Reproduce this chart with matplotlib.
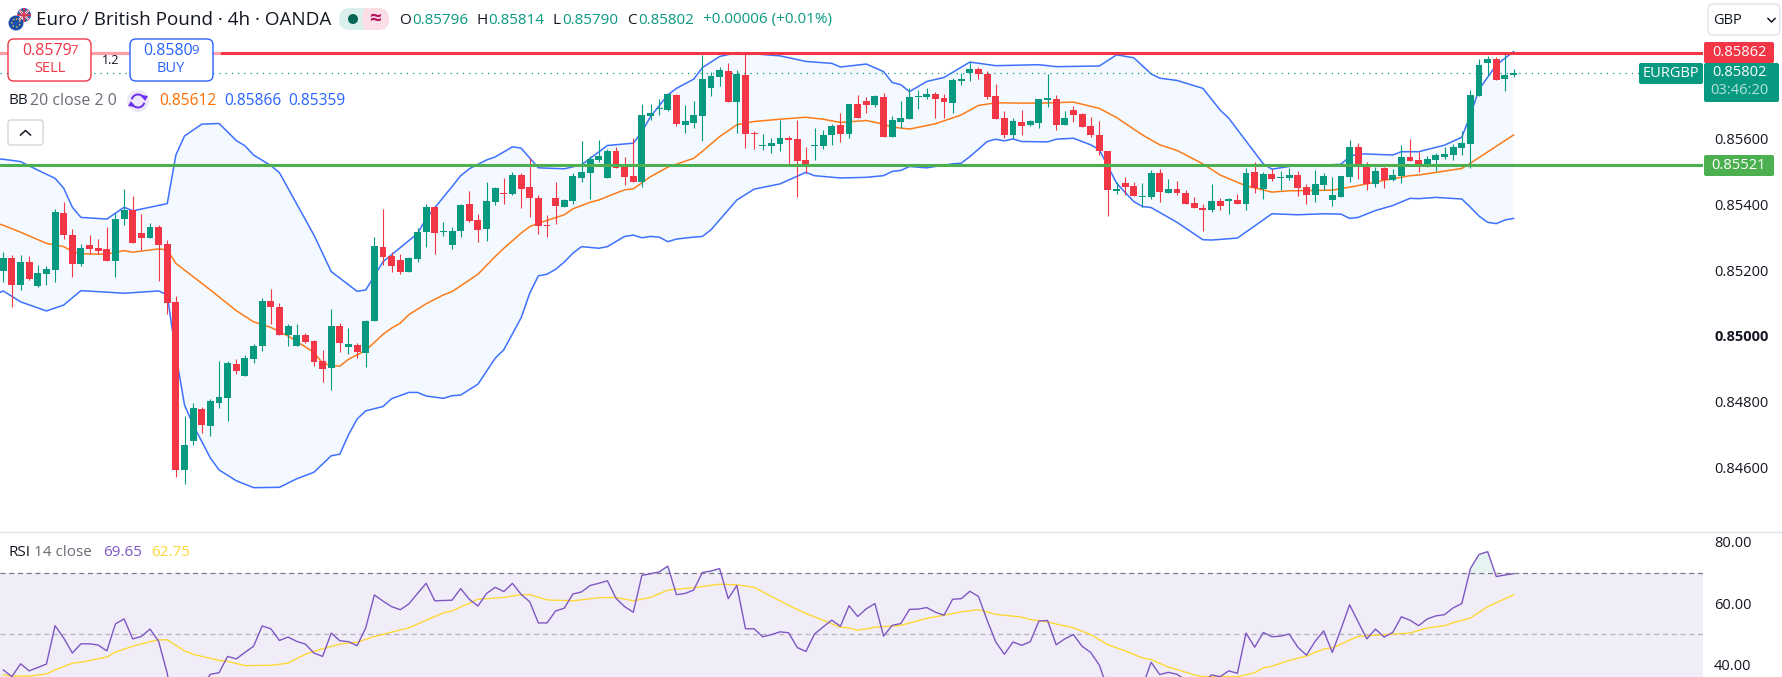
import numpy as np
import matplotlib
matplotlib.use('Agg')
import matplotlib.pyplot as plt
from matplotlib.patches import Rectangle, FancyBboxPatch, Circle, Arc, Polygon

plt.rcParams['font.family'] = ['Open Sans', 'DejaVu Sans']

# prices in 1e-5 units, one entry per 4h bar
opens = [85199,85236,85155,85224,85152,85189,85201,85373,85307,85219,
         85277,85268,85264,85229,85356,85384,85312,85299,85331,85279,
         85103,84592,84681,84778,84726,84796,84810,84915,84879,84930,
         84968,85106,85087,85003,84968,85003,84985,84924,84903,85031,
         84967,84973,84949,85044,85270,85244,85231,85196,85235,85317,
         85394,85317,85277,85320,85402,85353,85326,85408,85436,85433,
         85490,85454,85420,85338,85420,85393,85411,85481,85497,85536,
         85481,85564,85515,85487,85469,85670,85691,85688,85734,85643,
         85649,85670,85755,85789,85807,85713,85795,85618,85579,85579,
         85585,85603,85600,85536,85579,85579,85612,85643,85615,85707,
         85716,85704,85728,85606,85652,85661,85728,85728,85737,85725,
         85710,85777,85800,85813,85798,85731,85664,85612,85652,85643,
         85649,85719,85722,85643,85688,85676,85640,85612,85564,85442,
         85466,85457,85424,85424,85497,85436,85448,85436,85405,85390,
         85384,85411,85412,85414,85402,85500,85448,85494,85481,85481,
         85490,85454,85430,85460,85414,85424,85484,85575,85524,85463,
         85511,85475,85487,85545,85536,85515,85536,85545,85551,85572,
         85585,85731,85831,85843,85782,85796]
highs = [85257,85247,85247,85243,85216,85213,85386,85409,85326,85280,
         85307,85295,85331,85373,85446,85426,85371,85343,85337,85292,
         85122,84755,84797,84785,84809,84924,84924,84930,84943,84976,
         85115,85142,85099,85036,85037,85009,84988,84958,85083,85039,
         85025,84979,85049,85300,85386,85255,85250,85241,85328,85402,
         85396,85348,85333,85402,85442,85372,85468,85455,85481,85500,
         85496,85541,85430,85369,85469,85417,85496,85594,85548,85597,
         85570,85576,85545,85603,85707,85707,85722,85739,85737,85704,
         85716,85856,85804,85819,85832,85810,85861,85624,85615,85603,
         85658,85609,85658,85576,85634,85627,85646,85679,85707,85734,
         85728,85734,85740,85670,85716,85754,85749,85755,85743,85737,
         85785,85800,85835,85819,85807,85768,85685,85664,85688,85658,
         85722,85798,85734,85685,85701,85679,85667,85655,85564,85470,
         85484,85469,85466,85506,85509,85478,85472,85445,85423,85402,
         85463,85420,85420,85433,85512,85530,85500,85509,85503,85512,
         85503,85463,85506,85497,85484,85487,85597,85589,85529,85515,
         85515,85508,85581,85600,85561,85548,85556,85574,85585,85624,
         85749,85843,85851,85848,85861,85814]
lows = [85165,85089,85140,85170,85150,85155,85165,85295,85181,85213,
        85250,85250,85229,85178,85338,85284,85262,85299,85168,85066,
        84572,84550,84668,84704,84694,84782,84740,84885,84879,84919,
        84953,85037,85003,84968,84968,84978,84909,84861,84834,84950,
        84946,84933,84906,85044,85216,85194,85189,85194,85226,85272,
        85250,85304,85265,85302,85347,85286,85290,85399,85402,85429,
        85390,85363,85311,85302,85341,85393,85402,85469,85417,85530,
        85481,85512,85460,85469,85454,85658,85673,85685,85640,85618,
        85634,85594,85731,85761,85713,85618,85573,85570,85567,85557,
        85564,85524,85423,85496,85536,85570,85582,85591,85604,85664,
        85679,85698,85606,85606,85632,85661,85691,85722,85664,85664,
        85679,85765,85777,85783,85722,85661,85603,85603,85612,85640,
        85634,85698,85628,85643,85652,85637,85606,85551,85366,85433,
        85430,85427,85393,85417,85408,85436,85430,85402,85390,85320,
        85378,85384,85372,85402,85384,85436,85417,85472,85445,85475,
        85427,85402,85408,85445,85396,85424,85469,85478,85444,85455,
        85451,85472,85466,85533,85499,85515,85502,85539,85536,85551,
        85512,85731,85792,85779,85746,85790]
closes = [85236,85155,85224,85172,85191,85203,85376,85307,85219,85267,
          85264,85259,85229,85356,85384,85284,85299,85333,85277,85101,
          84592,84668,84782,84729,84802,84815,84919,84892,84933,84970,
          85106,85087,85003,85031,85003,84982,84921,84900,85031,84979,
          84976,84952,85046,85274,85241,85214,85196,85238,85316,85392,
          85312,85321,85320,85399,85350,85323,85411,85451,85433,85490,
          85448,85420,85335,85335,85396,85414,85487,85500,85539,85548,
          85564,85512,85484,85469,85673,85679,85694,85737,85646,85655,
          85673,85783,85792,85810,85713,85798,85615,85615,85582,85588,
          85603,85597,85533,85515,85582,85612,85640,85615,85707,85664,
          85704,85731,85606,85658,85664,85728,85731,85737,85722,85713,
          85780,85783,85813,85798,85728,85661,85612,85655,85640,85655,
          85722,85725,85643,85664,85673,85637,85612,85564,85445,85448,
          85454,85427,85427,85497,85439,85448,85436,85402,85390,85384,
          85411,85396,85416,85402,85497,85451,85494,85478,85484,85490,
          85451,85430,85463,85487,85430,85487,85575,85521,85463,85502,
          85475,85490,85545,85533,85515,85539,85551,85554,85575,85588,
          85734,85825,85843,85779,85795,85802]

# bollinger lines, read at the bars where they bend
upper_bars = [-1,0,2,4,6,7,8,9,12,14,15,17,19,20,21,23,25,27,28,29,31,32,34,36,38,41,42,44,48,49,
              52,53,54,56,57,59,60,62,65,67,70,73,74,75,77,78,80,81,83,85,90,93,96,97,100,102,103,104,
              105,107,109,112,115,120,122,127,129,131,133,134,136,139,141,142,146,147,149,150,153,155,
              156,157,161,162,164,167,169,170,171,173,175]
upper_vals = [85540,85538,85531,85505,85480,85450,85392,85361,85356,85392,85381,85392,85403,85551,85609,85645,85647,85595,85579,85551,85519,85497,85402,85307,85196,85136,85140,85226,85312,85358,
              85455,85488,85509,85536,85545,85576,85572,85512,85509,85521,85580,85587,85622,85668,85734,85754,85782,85817,85851,85863,85853,85836,85830,85819,85828,85805,85772,85765,
              85744,85775,85787,85834,85823,85826,85820,85822,85856,85847,85798,85785,85778,85754,85688,85663,85524,85508,85516,85520,85520,85523,
              85546,85555,85551,85561,85561,85581,85605,85673,85751,85825,85866]
lower_bars = [-1,0,2,5,7,9,14,18,19,20,21,22,24,25,27,29,32,34,36,38,39,40,41,42,44,45,47,48,49,51,52,53,55,57,58,60,
              61,62,63,64,65,66,67,69,70,72,73,74,75,76,77,78,80,81,82,85,87,90,93,94,97,100,102,103,104,
              105,107,110,111,112,114,115,116,117,118,121,122,124,126,127,128,129,131,132,133,136,139,140,143,145,147,150,153,155,156,
              157,159,161,163,164,166,169,170,171,172,173,174,175]
lower_vals = [85125,85137,85104,85076,85094,85138,85130,85137,85125,84943,84790,84729,84628,84592,84559,84538,84539,84565,84585,84635,84640,84699,84747,84772,84785,84809,84828,84828,84817,84810,84818,84820,84853,84932,84958,85055,
              85130,85183,85188,85203,85225,85252,85272,85267,85272,85303,85307,85299,85303,85301,85287,85295,85301,85303,85323,85414,85447,85463,85498,85488,85481,85483,85488,85501,85504,
              85516,85512,85524,85526,85546,85592,85599,85594,85600,85592,85591,85599,85602,85582,85567,85516,85465,85409,85394,85391,85346,85293,85292,85298,85335,85372,85369,85372,85371,85358,
              85361,85382,85397,85419,85418,85422,85417,85392,85365,85346,85342,85353,85358]
basis_bars = [-1,0,2,5,7,8,9,12,14,15,18,19,20,24,27,29,31,33,36,37,38,39,40,42,44,45,46,47,49,51,
              52,55,57,58,60,61,62,65,66,68,69,71,72,73,75,77,80,81,83,85,87,90,93,95,97,100,102,103,104,
              105,108,111,113,115,118,120,124,127,129,132,134,136,139,141,144,147,149,154,156,
              158,160,163,164,169,170,175]
basis_vals = [85345,85337,85316,85282,85272,85257,85250,85249,85260,85255,85265,85262,85221,85140,85077,85043,85026,85000,84950,84917,84910,84908,84929,84956,85005,85024,85039,85065,85098,85125,
              85135,85188,85242,85267,85313,85333,85343,85369,85387,85407,85414,85435,85445,85448,85485,85514,85541,85562,85607,85643,85653,85660,85666,85660,85650,85656,85645,85636,85633,
              85630,85646,85673,85702,85710,85709,85709,85712,85693,85665,85612,85582,85565,85524,85490,85457,85438,85442,85444,85453,
              85463,85474,85488,85490,85510,85526,85612]

rsi = [38.3,36.1,40.3,38.0,39.1,40.2,52.7,48.7,43.8,46.8,
       46.8,46.4,44.5,53.3,54.9,48.4,49.2,51.6,47.6,37.2,
       16.4,19.7,28.5,32.8,36.9,37.4,42.7,41.9,44.0,46.0,
       52.6,51.7,47.9,49.0,47.6,46.7,43.8,42.7,50.3,47.8,
       47.5,46.2,52.0,62.7,60.7,58.9,57.9,59.8,63.2,66.5,
       60.8,60.9,61.0,64.8,61.3,59.1,63.2,65.2,63.8,66.5,
       62.9,60.5,53.6,53.6,57.5,58.4,63.0,63.7,65.8,66.5,
       67.3,61.6,58.9,57.1,69.1,69.6,70.2,72.1,62.8,63.2,
       64.3,70.0,70.5,71.3,61.5,65.8,51.7,51.7,49.1,49.8,
       50.7,50.4,45.6,44.3,50.0,52.3,54.5,52.5,59.2,55.7,
       58.2,59.9,49.3,52.8,53.4,58.0,58.1,58.6,57.1,56.1,
       61.3,61.5,63.9,62.2,54.5,47.4,43.4,47.4,46.3,47.5,
       54.2,54.4,46.5,48.4,49.8,46.0,44.0,39.9,31.7,31.7,
       32.3,30.7,32.8,40.8,36.8,37.5,36.9,35.0,32.8,33.9,
       36.7,36.1,38.0,37.2,50.3,45.7,50.5,49.1,49.3,50.0,
       45.7,43.1,47.6,51.0,44.0,51.6,59.5,53.9,48.4,51.6,
       49.0,50.5,55.6,54.5,52.7,54.9,55.9,56.3,58.5,59.9,
       71.3,75.9,76.8,68.7,69.2,69.65]
rsi_ma_bars = [0,1,3,5,6,8,9,12,13,15,17,18,19,21,22,25,26,28,31,33,35,37,39,41,43,47,51,52,55,58,60,61,63,66,69,
               71,73,75,77,80,83,85,87,91,93,97,98,99,101,104,107,109,111,113,115,118,119,121,124,126,128,130,132,133,135,136,138,
               139,143,145,146,147,149,151,153,154,157,159,163,165,167,168,170,172,175]
rsi_ma_vals = [36.7,36.3,36.3,37.0,38.3,40.5,40.8,42.5,44.1,46.0,47.5,48.1,48.1,44.5,43.4,41.4,41.1,39.7,39.8,40.5,43.4,45.2,46.7,47.3,49.2,52.0,56.9,57.5,61.3,61.9,62.8,62.8,61.1,60.8,61.8,
               61.9,60.8,61.9,64.3,65.1,66.2,66.0,65.2,59.3,56.7,52.2,52.0,51.2,52.2,52.8,55.1,56.1,57.2,57.9,56.4,55.5,54.7,53.9,52.0,49.8,46.5,44.5,42.2,41.7,39.2,38.4,36.7,
               36.1,36.1,37.4,39.0,39.5,41.4,42.8,45.1,45.5,49.2,49.6,50.3,52.0,52.7,53.7,55.2,58.9,62.75]

resistance = 0.85862
support = 0.85521
last_price = 0.85802
price_ticks = [0.856, 0.854, 0.852, 0.85, 0.848, 0.846]
rsi_ticks = [80, 60, 40]

GREEN = '#089981'
RED = '#f23645'
BLUE = '#2962ff'
ORANGE = '#ff6d00'
PURPLE = '#7e57c2'
YELLOW = '#fdd835'
GREY = '#787b86'
DARK = '#131722'

W, H = 1783, 677
PANE_W = 1703
SPLIT = 532

fig = plt.figure(figsize=(W / 100, H / 100), dpi=100)
ax = fig.add_axes([0, 1 - SPLIT / H, PANE_W / W, SPLIT / H])
ax2 = fig.add_axes([0, 0, PANE_W / W, (H - SPLIT) / H])

o = np.array(opens) / 1e5
h = np.array(highs) / 1e5
l = np.array(lows) / 1e5
c = np.array(closes) / 1e5
x = np.arange(len(o))
cols = [GREEN if b >= a else RED for a, b in zip(o, c)]

xlim = (-0.38, 196.95)

# bands sit behind the candles
ub, lb = np.array(upper_bars), np.array(lower_bars)
uv, lv = np.array(upper_vals) / 1e5, np.array(lower_vals) / 1e5
ax.fill(np.r_[ub, lb[::-1]], np.r_[uv, lv[::-1]], color='#2196f3', alpha=0.05, lw=0, zorder=1)
ax.plot(ub, uv, color=BLUE, lw=1.1, alpha=0.9, zorder=2)
ax.plot(lb, lv, color=BLUE, lw=1.1, alpha=0.9, zorder=2)
ax.plot(basis_bars, np.array(basis_vals) / 1e5, color=ORANGE, lw=1.1, alpha=0.9, zorder=2)

ax.vlines(x, l, h, colors=cols, lw=0.8, zorder=3)
ax.bar(x, np.abs(c - o), bottom=np.minimum(o, c), width=0.8, color=cols, lw=0, zorder=4)

ax.axhline(last_price, color=GREEN, lw=0.9, ls=(0, (1, 4)), zorder=3)
ax.axhline(resistance, color=RED, lw=2.2, zorder=5)
ax.axhline(support, color='#4caf50', lw=2.2, zorder=5)
# header fades the start of the red line
ax.plot([-1, 25], [resistance, resistance], color='#ffa0a8', lw=2.2, zorder=6)

ax.set_xlim(xlim)
ax.set_ylim(0.84403, 0.86023)
ax.set_xticks([])
ax.yaxis.tick_right()
ax.set_yticks(price_ticks)
ax.set_yticklabels(['%.5f' % t for t in price_ticks], fontsize=10.5, color=DARK)
ax.get_yticklabels()[3].set_fontweight('bold')
ax.tick_params(axis='y', length=0, pad=8)
for s in ax.spines.values():
    s.set_visible(False)

# rsi pane
ax2.axhspan(30, 70, color='#7e57c2', alpha=0.1, lw=0, zorder=1)
ax2.axhline(70, color=GREY, lw=0.9, ls=(0, (4, 3)), zorder=2)
ax2.axhline(50, color=GREY, lw=0.9, ls=(0, (4, 3)), alpha=0.5, zorder=2)
rsi_arr = np.array(rsi)
ax2.fill_between(x, rsi_arr, 70, where=rsi_arr > 70, interpolate=True, color=GREEN, alpha=0.1, lw=0, zorder=2)
ax2.plot(rsi_ma_bars, rsi_ma_vals, color=YELLOW, lw=1.0, zorder=3)
ax2.plot(x, rsi_arr, color=PURPLE, lw=1.0, zorder=4)
ax2.set_xlim(xlim)
ax2.set_ylim(36.0, 83.2)
ax2.set_xticks([])
ax2.yaxis.tick_right()
ax2.set_yticks(rsi_ticks)
ax2.set_yticklabels(['%.2f' % t for t in rsi_ticks], fontsize=10.5, color=DARK)
ax2.tick_params(axis='y', length=0, pad=8)
for s in ax2.spines.values():
    s.set_visible(False)

# overlay in pixel coordinates for the tradingview ui
ui = fig.add_axes([0, 0, 1, 1], zorder=10)
ui.set_xlim(0, W)
ui.set_ylim(H, 0)
ui.axis('off')
ui.patch.set_alpha(0)


def label(px, py, s, color=DARK, size=10.5, ha='left', **kw):
    return ui.text(px, py, s, color=color, fontsize=size, ha=ha, va='center', **kw)


def box(x0, y0, x1, y1, face, edge='none', r=3, lw=1.0):
    p = FancyBboxPatch((x0 + r, y0 + r), x1 - x0 - 2 * r, y1 - y0 - 2 * r,
                       boxstyle='round,pad=%d,rounding_size=%d' % (r, r),
                       fc=face, ec=edge, lw=lw)
    ui.add_patch(p)
    return p


ui.plot([0, W], [SPLIT, SPLIT], color='#e0e3eb', lw=1)

# header flags
uk = Circle((24, 15), 7, fc='#3a5ba8', ec='none')
ui.add_patch(uk)
for a, b in [((18, 9), (30, 21)), ((30, 9), (18, 21))]:
    ui.plot([a[0], b[0]], [a[1], b[1]], color='white', lw=1.6, clip_path=uk)
    ui.plot([a[0], b[0]], [a[1], b[1]], color='#d8324a', lw=0.6, clip_path=uk)
ui.plot([24, 24], [8, 22], color='#d8324a', lw=1.2, clip_path=uk)
ui.plot([17, 31], [15, 15], color='#d8324a', lw=1.2, clip_path=uk)
ui.add_patch(Circle((16, 23), 8.5, fc='white', ec='none'))
ui.add_patch(Circle((16, 23), 7.5, fc='#1e4fa8', ec='none'))
ui.add_patch(Circle((16, 23), 4, fc='none', ec='#f5c542', lw=1.0, ls=':'))
label(36, 20, 'Euro / British Pound · 4h · OANDA', size=13.6)

# market status pill
box(339, 8, 389, 30, '#dbf0ec', r=11)
box(362, 8, 389, 30, '#fbdde6', r=11)
ui.add_patch(Rectangle((364, 8), 12, 22, fc='#fbdde6', ec='none'))
ui.add_patch(Circle((353, 19), 5, fc='#056656', ec='none'))
label(375, 19, '≈', color='#b5185f', size=15, ha='center', fontweight='bold')

ohlc_letters = ['O', 'H', 'L', 'C']
ohlc_letter_x = [399, 477, 553, 627]
ohlc_value_x = [412, 488, 562, 638]
ohlc_values = ['0.85796', '0.85814', '0.85790', '0.85802']
for lx, vx, k, v in zip(ohlc_letter_x, ohlc_value_x, ohlc_letters, ohlc_values):
    label(lx, 20, k, size=11)
    label(vx, 20, v, color=GREEN, size=11)
label(703, 20, '+0.00006 (+0.01%)', color=GREEN, size=11)

# sell / buy
box(8, 39, 91, 81, 'white', RED, r=6)
box(130, 39, 213, 81, 'white', BLUE, r=6)
label(22, 51, '0.8579', color=RED, size=11.5, fontweight='medium')
label(70, 50, '7', color=RED, size=9.5)
label(50, 69, 'SELL', color=RED, size=10.5, ha='center')
label(143, 51, '0.8580', color=BLUE, size=11.5, fontweight='medium')
label(191, 50, '9', color=BLUE, size=9.5)
label(171, 69, 'BUY', color=BLUE, size=10.5, ha='center')
label(111, 60, '1.2', size=9, ha='center')

# bb legend
label(8, 101, 'BB', size=11)
label(30, 101, '20 close 2 0', color='#6a6d78', size=11.5)
ui.add_patch(Circle((138, 101), 11, fc='#ece6f7', ec='none'))
ui.add_patch(Arc((138, 101), 13, 13, theta1=195, theta2=335, color='#6a2ff0', lw=1.4))
ui.add_patch(Arc((138, 101), 13, 13, theta1=15, theta2=155, color='#6a2ff0', lw=1.4))
ui.add_patch(Polygon([(141, 95), (148, 96), (145, 101)], fc='#6a2ff0', ec='none'))
ui.add_patch(Polygon([(135, 107), (128, 106), (131, 101)], fc='#6a2ff0', ec='none'))
label(159, 101, '0.85612', color=ORANGE, size=11.2)
label(224, 101, '0.85866', color=BLUE, size=11.2)
label(288, 101, '0.85359', color=BLUE, size=11.2)
box(8, 120, 43, 145, 'white', '#d1d4dc', r=3)
ui.plot([20.5, 25.5, 30.5], [135, 130.5, 135], color=DARK, lw=1.1)

# rsi legend
label(8, 553, 'RSI', size=11)
label(34, 553, '14 close', color='#6a6d78', size=11)
label(103, 553, '69.65', color=PURPLE, size=11)
label(151, 553, '62.75', color=YELLOW, size=11)

# price scale tags
box(1708, 4, 1780, 35, 'white', '#e0e3eb', r=5)
label(1713, 20, 'GBP', size=10.5)
ui.plot([1768, 1771.5, 1775], [18.5, 22, 18.5], color=DARK, lw=1.1)
box(1704, 42, 1774, 63, RED, r=2)
label(1739, 52.5, '0.85862', color='white', size=10.5, ha='center')
box(1704, 155, 1774, 176, '#4caf50', r=2)
label(1739, 165.5, '0.85521', color='white', size=10.5, ha='center')
box(1704, 63, 1779, 102, GREEN, r=2)
label(1739, 73, '0.85802', color='white', size=10.5, ha='center')
label(1739, 91, '03:46:20', color='#b5e3da', size=10.5, ha='center')
box(1639, 63, 1703, 84, GREEN, r=2)
label(1671, 73.5, 'EURGBP', color='white', size=10.5, ha='center')

fig.savefig('out.png', dpi=100, facecolor='white')
